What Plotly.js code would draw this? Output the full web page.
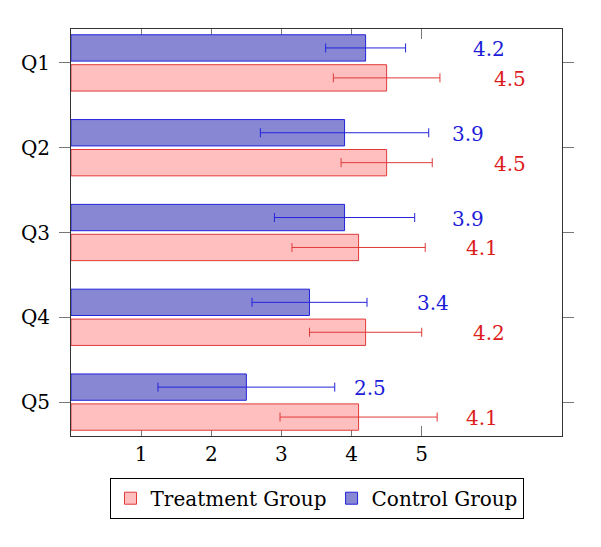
<!DOCTYPE html>
<html>
<head>
<meta charset="utf-8">
<script src="https://cdn.plot.ly/plotly-3.0.1.min.js"></script>
<style>html,body{margin:0;padding:0;background:#fff;}#chart{width:601px;height:547px;}</style>
</head>
<body>
<div id="chart"></div>
<script>
const categories = ['Q1', 'Q2', 'Q3', 'Q4', 'Q5'];
const controlValues = [4.2, 3.9, 3.9, 3.4, 2.5];
const controlErrors = [0.57, 1.2, 1.0, 0.82, 1.26];
const treatmentValues = [4.5, 4.5, 4.1, 4.2, 4.1];
const treatmentErrors = [0.76, 0.65, 0.95, 0.8, 1.12];
const xTicks = [1, 2, 3, 4, 5];
const controlName = 'Control Group';
const treatmentName = 'Treatment Group';

const FONT = 'DejaVu Serif, serif';
const FS = 20;
const BLUE_FILL = 'rgb(135,135,212)';
const BLUE_LINE = '#2424dc';
const BLUE_TEXT = '#1c1cd8';
const RED_FILL = '#ffbfbf';
const RED_LINE = '#e03a3a';
const RED_TEXT = '#dc1c1c';

const bargap = 0.294;
const bargroupgap = 0.12;
const labelOffset = 1.76;
const slot = (1 - bargap) / 2;

const control = {
  type: 'bar', orientation: 'h', name: controlName,
  y: categories, x: controlValues,
  marker: {color: BLUE_FILL, line: {color: BLUE_LINE, width: 1}},
  error_x: {type: 'data', array: controlErrors, visible: true, color: BLUE_LINE, thickness: 1, width: 4.5}
};
const treatment = {
  type: 'bar', orientation: 'h', name: treatmentName,
  y: categories, x: treatmentValues,
  marker: {color: RED_FILL, line: {color: RED_LINE, width: 1}},
  error_x: {type: 'data', array: treatmentErrors, visible: true, color: RED_LINE, thickness: 1, width: 4.5}
};

const annotations = [];
categories.forEach((c, i) => {
  annotations.push({
    x: controlValues[i] + labelOffset, y: i - slot / 2, xref: 'x', yref: 'y',
    text: controlValues[i].toFixed(1), showarrow: false, yshift: -1,
    font: {family: FONT, size: FS, color: BLUE_TEXT}
  });
  annotations.push({
    x: treatmentValues[i] + labelOffset, y: i + slot / 2, xref: 'x', yref: 'y',
    text: treatmentValues[i].toFixed(1), showarrow: false, yshift: -1,
    font: {family: FONT, size: FS, color: RED_TEXT}
  });
});

const layout = {
  width: 601, height: 547,
  margin: {l: 71, r: 39, t: 29, b: 111},
  paper_bgcolor: '#fff', plot_bgcolor: '#fff',
  barmode: 'group', bargap: bargap, bargroupgap: bargroupgap,
  font: {family: FONT, size: FS, color: '#000'},
  xaxis: {
    range: [0, 7], tickvals: xTicks, ticktext: xTicks.map(String),
    ticks: 'inside', ticklen: 10, tickcolor: '#777', tickwidth: 1,
    showline: true, linecolor: '#333', linewidth: 1, mirror: 'ticks',
    showgrid: false, zeroline: false, layer: 'below traces',
    tickfont: {family: FONT, size: FS, color: '#000'}, ticklabelstandoff: 0
  },
  yaxis: {
    type: 'category', range: [4.4, -0.4],
    ticks: 'outside', ticklen: 11, tickcolor: '#777', tickwidth: 1,
    showline: true, linecolor: '#333', linewidth: 1, mirror: 'ticks',
    showgrid: false, zeroline: false, layer: 'below traces',
    tickfont: {family: FONT, size: FS, color: '#000'}, ticklabelstandoff: 5
  },
  legend: {
    orientation: 'h', x: 0.5, xanchor: 'center', y: -0.1025, yanchor: 'top',
    traceorder: 'reversed', bgcolor: '#fff', bordercolor: '#000', borderwidth: 1,
    font: {family: FONT, size: FS, color: '#000'}, itemwidth: 30
  },
  annotations: annotations,
  showlegend: true
};

Plotly.newPlot('chart', [control, treatment], layout, {displayModeBar: false, staticPlot: true});
</script>
</body>
</html>
